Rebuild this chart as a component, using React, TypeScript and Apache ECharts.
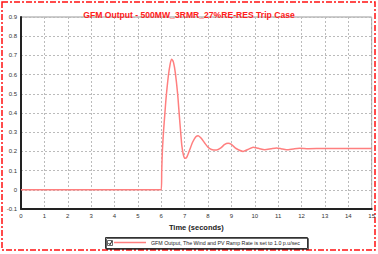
import React, { useEffect, useRef } from "react";
import * as echarts from "echarts";

const titleText = "GFM Output - 500MW_3RMR_27%RE-RES Trip Case";
const seriesName = "GFM Output, The Wind and PV Ramp Rate is set to 1.0 p.u/sec";
const xAxisName = "Time (seconds)";

const timeValues = [
  0, 6.0, 6.02, 6.05, 6.1, 6.15, 6.2, 6.3, 6.38, 6.45, 6.52, 6.6, 6.7, 6.77, 6.83, 6.88,
  6.95, 7.02, 7.1, 7.22, 7.35, 7.48, 7.58, 7.7, 7.85, 8.0, 8.15, 8.36, 8.55, 8.7, 8.86,
  9.0, 9.2, 9.5, 9.7, 9.93, 10.15, 10.43, 10.7, 10.93, 11.15, 11.35, 11.65, 11.92, 12.3,
  13, 15,
];
const outputValues = [
  0, 0, 0.1, 0.21, 0.31, 0.39, 0.47, 0.59, 0.655, 0.68, 0.665, 0.61, 0.5, 0.39, 0.3, 0.23,
  0.18, 0.164, 0.172, 0.21, 0.25, 0.276, 0.282, 0.27, 0.245, 0.222, 0.21, 0.207, 0.218,
  0.235, 0.242, 0.236, 0.215, 0.2, 0.21, 0.222, 0.216, 0.209, 0.214, 0.218, 0.213, 0.209,
  0.213, 0.216, 0.214, 0.215, 0.215,
];

export default function App() {
  const ref = useRef<HTMLDivElement>(null);
  useEffect(() => {
    if (!ref.current) return;
    const chart = echarts.init(ref.current, null, { renderer: "svg" });
    const data = timeValues.map((t, i) => [t, outputValues[i]]);
    const font = "Liberation Sans, Arial, sans-serif";
    chart.setOption({
      animation: false,
      backgroundColor: "#fff",
      title: {
        text: titleText,
        left: "center",
        top: 5,
        textStyle: { color: "#ff2020", fontSize: 8.6, fontWeight: "bold", fontFamily: font },
      },
      grid: {
        left: 21,
        right: 6,
        top: 17,
        bottom: 45,
        show: true,
        borderColor: "#999",
        borderWidth: 1,
      },
      legend: {
        data: [{ name: seriesName, icon: "rect" }],
        left: 114,
        top: 240,
        padding: 0,
        itemWidth: 32,
        itemHeight: 1.5,
        itemGap: 2,
        textStyle: { fontSize: 5.3, color: "#222", fontFamily: font },
        selectedMode: false,
      },
      xAxis: {
        type: "value",
        min: 0,
        max: 15,
        interval: 1,
        name: xAxisName,
        nameLocation: "middle",
        nameGap: 13,
        nameTextStyle: { fontSize: 7.5, fontWeight: "bold", color: "#222", fontFamily: font },
        axisLine: { show: true, onZero: false, lineStyle: { color: "#222", width: 2 } },
        axisTick: { show: false },
        axisLabel: { fontSize: 6, color: "#333", margin: 4, fontFamily: font },
        splitLine: { show: true, lineStyle: { color: "#bbb", type: [2, 2], width: 1 } },
      },
      yAxis: {
        type: "value",
        min: -0.1,
        max: 0.9,
        interval: 0.1,
        axisLine: { show: true, onZero: false, lineStyle: { color: "#222", width: 2 } },
        axisTick: { show: false },
        axisLabel: {
          fontSize: 6,
          color: "#333",
          margin: 4,
          fontFamily: font,
          formatter: (v: number) => {
            const r = Math.round(v * 10) / 10;
            return r === 0 ? "0" : String(r);
          },
        },
        splitLine: { show: true, lineStyle: { color: "#bbb", type: [2, 2], width: 1 } },
      },
      series: [
        {
          name: seriesName,
          type: "line",
          data,
          showSymbol: false,
          smooth: 0.2,
          lineStyle: { color: "#ff7f7f", width: 1.5 },
          itemStyle: { color: "#ff7f7f" },
        },
      ],
      graphic: [
        {
          type: "rect",
          shape: { x: 2, y: 2, width: 373, height: 248 },
          style: { fill: "none", stroke: "#ff1010", lineWidth: 1.5, lineDash: [6, 2, 2, 2] },
          silent: true,
        },
        {
          type: "rect",
          shape: { x: 105.5, y: 237.5, width: 202, height: 11 },
          style: {
            fill: "none",
            stroke: "#333",
            lineWidth: 1,
            shadowColor: "rgba(0,0,0,0.6)",
            shadowOffsetX: 1,
            shadowOffsetY: 1,
            shadowBlur: 0,
          },
          silent: true,
        },
        {
          type: "rect",
          shape: { x: 107.5, y: 240.5, width: 5, height: 5 },
          style: { fill: "#fff", stroke: "#444", lineWidth: 0.8 },
          silent: true,
        },
        {
          type: "polyline",
          shape: { points: [[108.5, 243], [110, 244.7], [112, 241]] },
          style: { stroke: "#111", lineWidth: 1, fill: "none" },
          silent: true,
        },
      ],
    });
    return () => chart.dispose();
  }, []);
  return (
    <div
      ref={ref}
      style={{ position: "fixed", left: 0, top: 0, width: 378, height: 254 }}
    />
  );
}
